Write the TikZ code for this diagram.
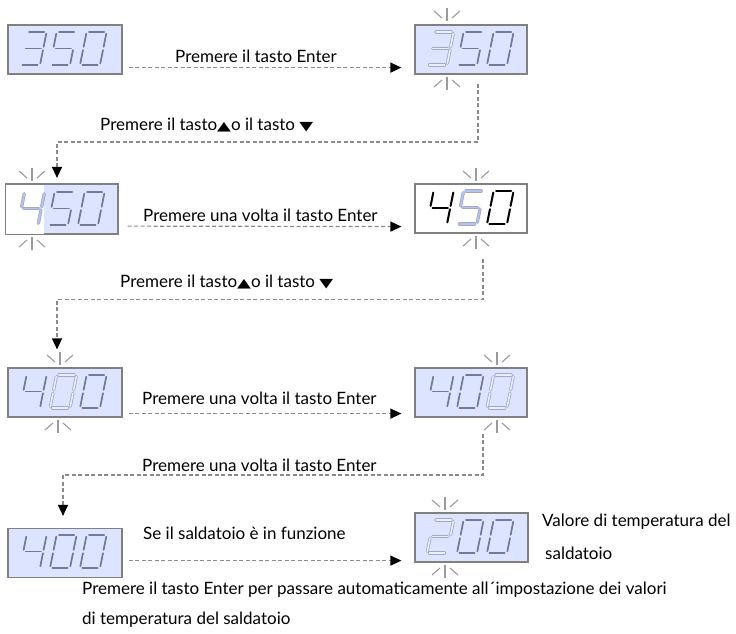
\documentclass[tikz,border=0pt]{standalone}
\usepackage{fontspec}
\setmainfont{Lato}
\newfontfamily\symfont{DejaVu Sans}
\usetikzlibrary{arrows.meta,calc}
\definecolor{lcdfill}{HTML}{DCE4FF}
\definecolor{lcdframe}{HTML}{808080}
\definecolor{segcol}{HTML}{737A96}
\definecolor{dimcol}{HTML}{A3A9C0}
\definecolor{dimblue}{HTML}{B4C4F2}
\definecolor{flowcol}{HTML}{8A8A8A}
\definecolor{raycol}{HTML}{9A9A9A}
\tikzset{
  lcd/.style={draw=lcdframe,line width=1.2pt,fill=lcdfill,minimum height=49pt,inner sep=0pt},
  lcdwhite/.style={lcd,fill=white},
  seg/.style={draw=segcol,line width=1.7pt,line cap=round},
  blackseg/.style={draw=black,line width=2pt,line cap=round},
  dimseg/.style={draw=dimcol,double=lcdfill!60!white,double distance=1.5pt,line width=0.8pt,line cap=round},
  dimblueseg/.style={draw=dimcol,double=dimblue,double distance=1.7pt,line width=0.8pt,line cap=round},
  flow/.style={draw=flowcol,line width=1.2pt,dash pattern=on 4pt off 2.5pt,-{Triangle[length=11pt,width=10pt,color=black]}},
  ray/.style={draw=raycol,line width=1.1pt},
  lbl/.style={font=\fontsize{17}{19}\selectfont,inner sep=0pt,anchor=west,text=black}
}
% segments of a digit of width 1 and height 2
\newcommand\segmA[1]{\draw[#1] (0.12,2)--(0.88,2);}
\newcommand\segmB[1]{\draw[#1] (1,1.9)--(1,1.1);}
\newcommand\segmC[1]{\draw[#1] (1,0.9)--(1,0.1);}
\newcommand\segmD[1]{\draw[#1] (0.12,0)--(0.88,0);}
\newcommand\segmE[1]{\draw[#1] (0,0.1)--(0,0.9);}
\newcommand\segmF[1]{\draw[#1] (0,1.1)--(0,1.9);}
\newcommand\segmG[1]{\draw[#1] (0.12,1)--(0.88,1);}
% \sevseg{x}{y}{segments}{style}: bottom left corner of a digit
\newcommand\sevseg[4]{%
  \begin{scope}[shift={(#1,#2)},x={(20pt,0pt)},y={(3.3pt,16.5pt)}]
    \foreach \sg in {#3}{\csname segm\sg\endcsname{#4}}
  \end{scope}}
% blinking rays above and below a box at horizontal position x
\newcommand\raysup[2]{% x, top of box
  \draw[ray] (#1,#2-16)--(#1,#2-3);
  \draw[ray] (#1-13,#2-13)--(#1-5,#2-6);
  \draw[ray] (#1+13,#2-13)--(#1+5,#2-6);}
\newcommand\raysdown[2]{% x, bottom of box
  \draw[ray] (#1,#2+3)--(#1,#2+16);
  \draw[ray] (#1-13,#2+13)--(#1-5,#2+6);
  \draw[ray] (#1+13,#2+13)--(#1+5,#2+6);}
\newcommand\up{{\symfont\fontsize{12}{12}\selectfont\scalebox{1.5}[1.05]{▲}}}
\newcommand\down{{\symfont\fontsize{12}{12}\selectfont\scalebox{1.5}[1.05]{▼}}}
\begin{document}
\begin{tikzpicture}[x=1pt,y=-1pt]
\useasboundingbox (0,0) rectangle (736,633);
% ---------- boxes
\node[lcd,minimum width=114pt] (b1) at (65,49.5) {};
\node[lcd,minimum width=112pt] (b2) at (471,49.5) {};
\node[lcd,minimum width=112pt] (b3) at (62,209) {};
\fill[white] (b3.north west) rectangle ($(b3.south west)+(39,0)$);
\draw[draw=lcdframe,line width=1.2pt] (b3.north west) rectangle (b3.south east);
\node[lcdwhite,minimum width=112pt] (b4) at (471,208.5) {};
\node[lcd,minimum width=114pt] (b5) at (65,392.5) {};
\node[lcd,minimum width=112pt] (b6) at (471,392.5) {};
\node[lcd,minimum width=114pt] (b7) at (65,553) {};
\node[lcd,minimum width=113pt] (b8) at (471.5,537.5) {};
% ---------- digits (A top, B top right, C bottom right, D bottom, E bottom left, F top left, G middle)
% row 1
\sevseg{20}{65}{A,B,G,C,D}{seg}
\sevseg{50}{65}{A,F,G,C,D}{seg}
\sevseg{80}{65}{A,B,C,D,E,F}{seg}
\sevseg{427}{65}{A,B,G,C,D}{dimseg}
\sevseg{457}{65}{A,F,G,C,D}{seg}
\sevseg{487}{65}{A,B,C,D,E,F}{seg}
% row 2
\sevseg{18}{225}{F,G,B,C}{dimblueseg}
\sevseg{48}{225}{A,F,G,C,D}{seg}
\sevseg{78}{225}{A,B,C,D,E,F}{seg}
\sevseg{427}{224}{F,G,B,C}{blackseg}
\sevseg{457}{224}{A,F,G,C,D}{dimblueseg}
\sevseg{487}{224}{A,B,C,D,E,F}{blackseg}
% row 3
\sevseg{20}{408}{F,G,B,C}{seg}
\sevseg{50}{408}{A,B,C,D,E,F}{dimseg}
\sevseg{80}{408}{A,B,C,D,E,F}{seg}
\sevseg{427}{408}{F,G,B,C}{seg}
\sevseg{457}{408}{A,B,C,D,E,F}{seg}
\sevseg{487}{408}{A,B,C,D,E,F}{dimseg}
% row 4
\sevseg{20}{568}{F,G,B,C}{seg}
\sevseg{50}{568}{A,B,C,D,E,F}{seg}
\sevseg{80}{568}{A,B,C,D,E,F}{seg}
\sevseg{427}{553}{A,B,G,E,D}{dimseg}
\sevseg{457}{553}{A,B,C,D,E,F}{seg}
\sevseg{487}{553}{A,B,C,D,E,F}{seg}
% ---------- blinking rays
\raysup{447}{24}\raysdown{447}{74}
\raysup{32}{184}\raysdown{32}{234}
\raysup{476}{184}\raysdown{476}{233}
\raysup{60}{368}\raysdown{58}{417}
\raysup{497}{368}\raysdown{497}{417}
\raysup{445}{513}\raysdown{445}{562}
% ---------- connectors
\draw[flow] ($(b1.south east)+(6,-7)$) -- ($(b2.south west)+(-13,-7)$);
\draw[flow] ($(b2.south)+(7,9)$) |- ($(b3.north)+(-5,-42)$) -- ($(b3.north)+(-5,-6)$);
\draw[flow] ($(b3.south east)+(9,-8)$) -- ($(b4.south west)+(-13,-7)$);
\draw[flow] ($(b4.south)+(12,25)$) |- ($(b5.north)+(-8,-68)$) -- ($(b5.north)+(-8,-18)$);
\draw[flow] ($(b5.south east)+(6,-4)$) -- ($(b6.south west)+(-13,-4)$);
\draw[flow] ($(b6.south)+(12,16)$) |- ($(b7.north)+(-2,-53)$) -- ($(b7.north)+(-2,-12)$);
\draw[flow] ($(b7.east|-b8.south)+(6,-2)$) -- ($(b8.south west)+(-13,-2)$);
% ---------- labels
\node[lbl] (t1) at (175,56) {Premere il tasto Enter};
\node[lbl] (t2) at (100,125) {Premere il tasto\up o il tasto \down};
\node[lbl] (t3) at (143,215) {Premere una volta il tasto Enter};
\node[lbl] (t4) at (120,282) {Premere il tasto\up o il tasto \down};
\node[lbl] (t5) at (142,398) {Premere una volta il tasto Enter};
\node[lbl] (t6) at (142,465) {Premere una volta il tasto Enter};
\node[lbl] (t7) at (143,533) {Se il saldatoio è in funzione};
\node[lbl] (t8) at (542,522) {Valore di temperatura del};
\node[lbl] (t9) at (545,553) {saldatoio};
\node[lbl] (t10) at (82,590) {Premere il tasto Enter per passare automaticamente all´impostazione dei valori};
\node[lbl] (t11) at (82,620) {di temperatura del saldatoio};
\end{tikzpicture}
\end{document}
